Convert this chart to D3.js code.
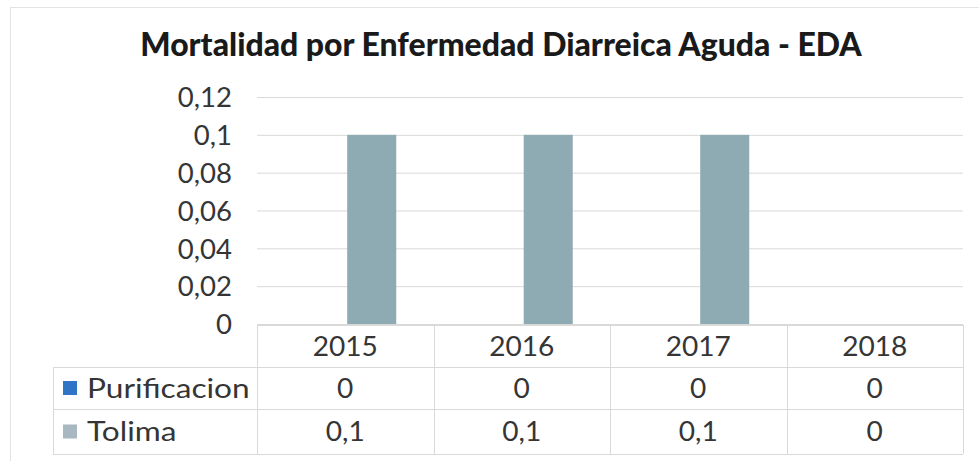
<!DOCTYPE html>
<html>
<head>
<meta charset="utf-8">
<script src="https://cdn.jsdelivr.net/npm/d3@7"></script>
<style>
  html, body { margin: 0; padding: 0; background: #ffffff; }
  svg { display: block; }
  text { font-family: "Lato", "Open Sans", "DejaVu Sans", sans-serif; }
</style>
</head>
<body>
<svg id="chart" width="979" height="461"></svg>
<script>
// ---- data ----
const title = "Mortalidad por Enfermedad Diarreica Aguda - EDA";
const categories = ["2015", "2016", "2017", "2018"];
const seriesNames = ["Purificacion", "Tolima"];
const purificacion = [0, 0, 0, 0];
const tolima = [0.1, 0.1, 0.1, 0];
const yTicks = [0, 0.02, 0.04, 0.06, 0.08, 0.1, 0.12];
const seriesColors = ["#2f74c5", "#8eaab2"];
const legendColors = ["#2f74c5", "#a7b8c0"];

const seriesValues = [purificacion, tolima];

const svg = d3.select("#chart");
const fmt = v => String(+v.toFixed(4)).replace(".", ",");

// layout
const plotLeft = 257, plotRight = 963, plotTop = 97, plotBottom = 324;
const tableRows = [325, 367, 409, 454];
const legendLeft = 53;
const gridColor = "#d9d9d9";
const textColor = "#353535";
const bodyWeight = 400;
const bodySize = 27;

// widen glyphs horizontally (reference face is a wide geometric sans)
function stretch(sel, k) {
  sel.each(function () {
    const w = this.getComputedTextLength();
    d3.select(this).attr("textLength", w * k).attr("lengthAdjust", "spacingAndGlyphs");
  });
}

// outer border
svg.append("rect").attr("x", 10.5).attr("y", 7.5).attr("width", 990).attr("height", 460)
  .attr("fill", "none").attr("stroke", "#e3e3e3").attr("stroke-width", 1);

// scales
const x0 = d3.scaleBand().domain(categories).range([plotLeft, plotRight]).padding(0);
const x1 = d3.scaleBand().domain(seriesNames).range([0, x0.bandwidth()])
  .paddingInner(0).paddingOuter(0.8).align(0.525);
const y = d3.scaleLinear().domain([0, 0.12]).range([plotBottom, plotTop]);

// title
const t = svg.append("text").attr("x", 501).attr("y", 56).attr("text-anchor", "middle")
  .attr("font-weight", "900").attr("fill", "#1a1a1a").attr("font-size", 28).text(title);
{
  const w = t.node().getComputedTextLength();
  t.attr("font-size", 28 * 722 / w);
}

// gridlines
const yAxis = d3.axisLeft(y).tickValues(yTicks).tickSize(-(plotRight - plotLeft)).tickFormat(fmt).tickPadding(25);
const gAxis = svg.append("g").attr("transform", `translate(${plotLeft},0)`).call(yAxis);
gAxis.select(".domain").remove();
gAxis.selectAll(".tick line").attr("stroke", gridColor).attr("stroke-width", 1);
gAxis.selectAll(".tick text").attr("fill", textColor).attr("font-size", bodySize)
  .attr("font-weight", bodyWeight)
  .attr("font-family", "Lato, 'Open Sans', sans-serif").attr("dy", "0.36em");
stretch(gAxis.selectAll(".tick text"), 1.02);

// bars
const groups = svg.append("g").selectAll("g").data(categories).join("g")
  .attr("transform", d => `translate(${x0(d)},0)`);
groups.selectAll("rect")
  .data((d, i) => seriesNames.map((s, k) => ({ s, v: seriesValues[k][i], k })))
  .join("rect")
  .attr("x", d => x1(d.s))
  .attr("width", x1.bandwidth())
  .attr("y", d => y(d.v))
  .attr("height", d => y(0) - y(d.v))
  .attr("fill", d => seriesColors[d.k]);

// data table
const tbl = svg.append("g").attr("stroke", gridColor).attr("stroke-width", 1).attr("fill", "none");
tbl.append("line").attr("x1", plotLeft).attr("x2", plotRight).attr("y1", tableRows[0] + 0.5).attr("y2", tableRows[0] + 0.5);
[1, 2, 3].forEach(r => {
  tbl.append("line").attr("x1", legendLeft).attr("x2", plotRight)
    .attr("y1", tableRows[r] + 0.5).attr("y2", tableRows[r] + 0.5);
});
const colEdges = categories.map(c => x0(c)).concat([plotRight]);
colEdges.forEach(xv => {
  tbl.append("line").attr("x1", Math.round(xv) + 0.5).attr("x2", Math.round(xv) + 0.5)
    .attr("y1", tableRows[0]).attr("y2", tableRows[3]);
});
tbl.append("line").attr("x1", legendLeft + 0.5).attr("x2", legendLeft + 0.5)
  .attr("y1", tableRows[1]).attr("y2", tableRows[3]);

// header labels
const hdr = svg.append("g").selectAll("text").data(categories).join("text")
  .attr("x", d => x0(d) + x0.bandwidth() / 2)
  .attr("y", (tableRows[0] + tableRows[1]) / 2)
  .attr("dy", "0.36em")
  .attr("text-anchor", "middle").attr("fill", textColor).attr("font-size", bodySize)
  .attr("font-weight", bodyWeight)
  .text(d => d);
stretch(hdr, 1.04);

// value rows
seriesNames.forEach((s, k) => {
  const cy = (tableRows[k + 1] + tableRows[k + 2]) / 2;
  const vals = svg.append("g").selectAll("text").data(seriesValues[k]).join("text")
    .attr("x", (d, i) => x0(categories[i]) + x0.bandwidth() / 2)
    .attr("y", cy).attr("dy", "0.36em")
    .attr("text-anchor", "middle").attr("fill", textColor).attr("font-size", bodySize)
    .attr("font-weight", bodyWeight)
    .text(d => fmt(d));
  stretch(vals, 1.04);
  svg.append("rect").attr("x", 63).attr("y", cy - 7).attr("width", 14).attr("height", 14)
    .attr("fill", legendColors[k]);
  const lab = svg.append("text").attr("x", 87).attr("y", cy).attr("dy", "0.36em")
    .attr("fill", textColor).attr("font-size", bodySize).attr("font-weight", bodyWeight).text(s);
  stretch(lab, 1.17);
});
</script>
</body>
</html>
